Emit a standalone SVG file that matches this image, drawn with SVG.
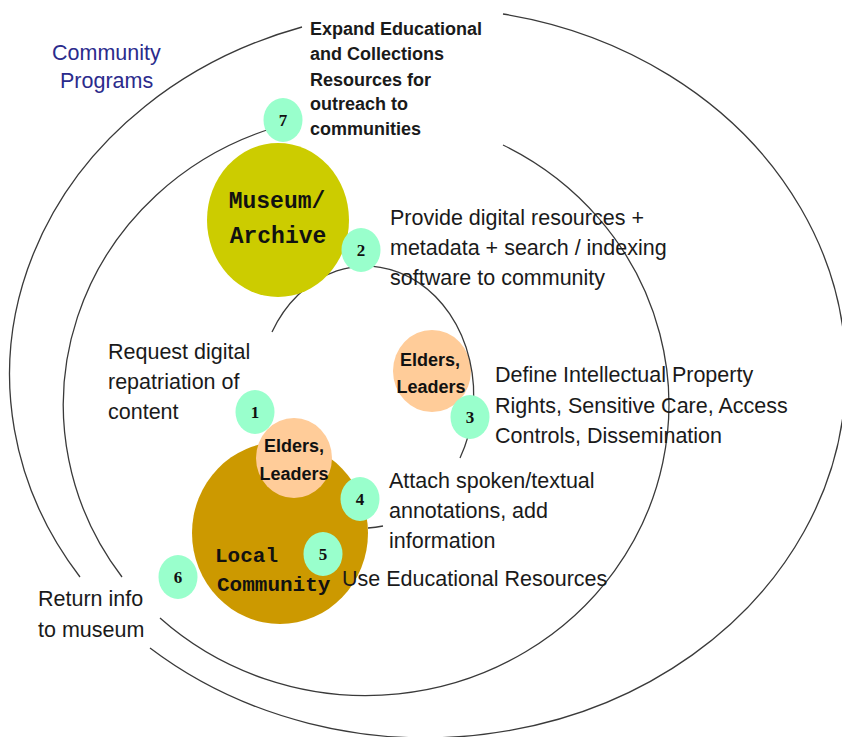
<svg xmlns="http://www.w3.org/2000/svg" width="842" height="737" viewBox="0 0 842 737">
<defs>
<style>
.arc{fill:none;stroke:#3a3a3a;stroke-width:1.3}
.num{fill:#99FFCC}
.numt{font-family:"Liberation Serif","Times New Roman",serif;font-weight:bold;font-size:17px;fill:#111;text-anchor:middle}
.lbl{font-family:"Liberation Sans",Arial,sans-serif;font-size:21.5px;fill:#1a1a1a}
.lblb{font-family:"Liberation Sans",Arial,sans-serif;font-size:18px;font-weight:bold;fill:#1a1a1a}
.mono{font-family:"Liberation Mono","Courier New",monospace;font-weight:bold;fill:#111}
.eld{fill:#FFCC99}
.eldt{font-family:"Liberation Sans",Arial,sans-serif;font-weight:bold;font-size:18px;fill:#111;text-anchor:middle}
</style>
</defs>
<rect width="842" height="737" fill="#ffffff"/>

<g id="elders-upper">
<ellipse class="eld" cx="432" cy="371" rx="39" ry="41"/>
<text class="eldt" x="430" y="366">Elders,</text>
<text class="eldt" x="431" y="393">Leaders</text>
</g>

<g id="connectors">
<path class="arc" d="M302,27 A420,365 0 0,0 80,577"/>
<path class="arc" d="M150,648 A420,365 0 1,0 503,14"/>
<path class="arc" d="M270,129 A303,291 0 0,0 122,577"/>
<path class="arc" d="M160,618 A303,291 0 1,0 503,145"/>
<path class="arc" d="M272,332 A107,128 0 0,1 460,458"/>
<path class="arc" d="M383,526 A107,128 0 0,1 368,528"/>
</g>

<g id="museum">
<ellipse cx="278" cy="220" rx="71" ry="77" fill="#CCCC00"/>
<text class="mono" font-size="23" x="277" y="208" text-anchor="middle">Museum/</text>
<text class="mono" font-size="23" x="278" y="243" text-anchor="middle">Archive</text>
</g>

<g id="local-community">
<ellipse cx="280" cy="533" rx="88" ry="91" fill="#CC9900"/>
<text class="mono" font-size="21" x="215" y="562">Local</text>
<text class="mono" font-size="21" x="217" y="591">Community</text>
</g>

<g id="elders-lower">
<ellipse class="eld" cx="294" cy="458" rx="38" ry="40"/>
<text class="eldt" x="294" y="452">Elders,</text>
<text class="eldt" x="294" y="480">Leaders</text>
</g>

<g id="step1"><ellipse class="num" cx="255" cy="412" rx="19.5" ry="22"/><text class="numt" x="255" y="418">1</text></g>
<g id="step2"><ellipse class="num" cx="361" cy="250" rx="19.5" ry="22"/><text class="numt" x="361" y="256">2</text></g>
<g id="step3"><ellipse class="num" cx="470" cy="417" rx="19.5" ry="22"/><text class="numt" x="470" y="423">3</text></g>
<g id="step4"><ellipse class="num" cx="360" cy="499" rx="19.5" ry="22"/><text class="numt" x="360" y="505">4</text></g>
<g id="step5"><ellipse class="num" cx="323" cy="554" rx="19.5" ry="22"/><text class="numt" x="323" y="560">5</text></g>
<g id="step6"><ellipse class="num" cx="178" cy="577" rx="19.5" ry="22"/><text class="numt" x="178" y="583">6</text></g>
<g id="step7"><ellipse class="num" cx="283" cy="120" rx="19.5" ry="22"/><text class="numt" x="283" y="126">7</text></g>

<g id="label-community-programs">
<text class="lbl" x="52" y="60" fill="#2B2B8C" style="fill:#2B2B8C">Community</text>
<text class="lbl" x="60" y="88" style="fill:#2B2B8C">Programs</text>
</g>

<g id="label-7">
<text class="lblb" x="310" y="35">Expand Educational</text>
<text class="lblb" x="310" y="60">and Collections</text>
<text class="lblb" x="310" y="86">Resources for</text>
<text class="lblb" x="310" y="110">outreach to</text>
<text class="lblb" x="310" y="135">communities</text>
</g>

<g id="label-2">
<text class="lbl" x="390" y="225">Provide digital resources +</text>
<text class="lbl" x="390" y="255">metadata + search / indexing</text>
<text class="lbl" x="390" y="285">software to community</text>
</g>

<g id="label-1">
<text class="lbl" x="108" y="359">Request digital</text>
<text class="lbl" x="108" y="389">repatriation of</text>
<text class="lbl" x="108" y="419">content</text>
</g>

<g id="label-3">
<text class="lbl" x="495" y="382">Define Intellectual Property</text>
<text class="lbl" x="495" y="413">Rights, Sensitive Care, Access</text>
<text class="lbl" x="495" y="443">Controls, Dissemination</text>
</g>

<g id="label-4">
<text class="lbl" x="389" y="488">Attach spoken/textual</text>
<text class="lbl" x="389" y="518">annotations, add</text>
<text class="lbl" x="389" y="548">information</text>
</g>

<g id="label-5">
<text class="lbl" x="342" y="586">Use Educational Resources</text>
</g>

<g id="label-6">
<text class="lbl" x="38" y="606">Return info</text>
<text class="lbl" x="38" y="637">to museum</text>
</g>
</svg>
